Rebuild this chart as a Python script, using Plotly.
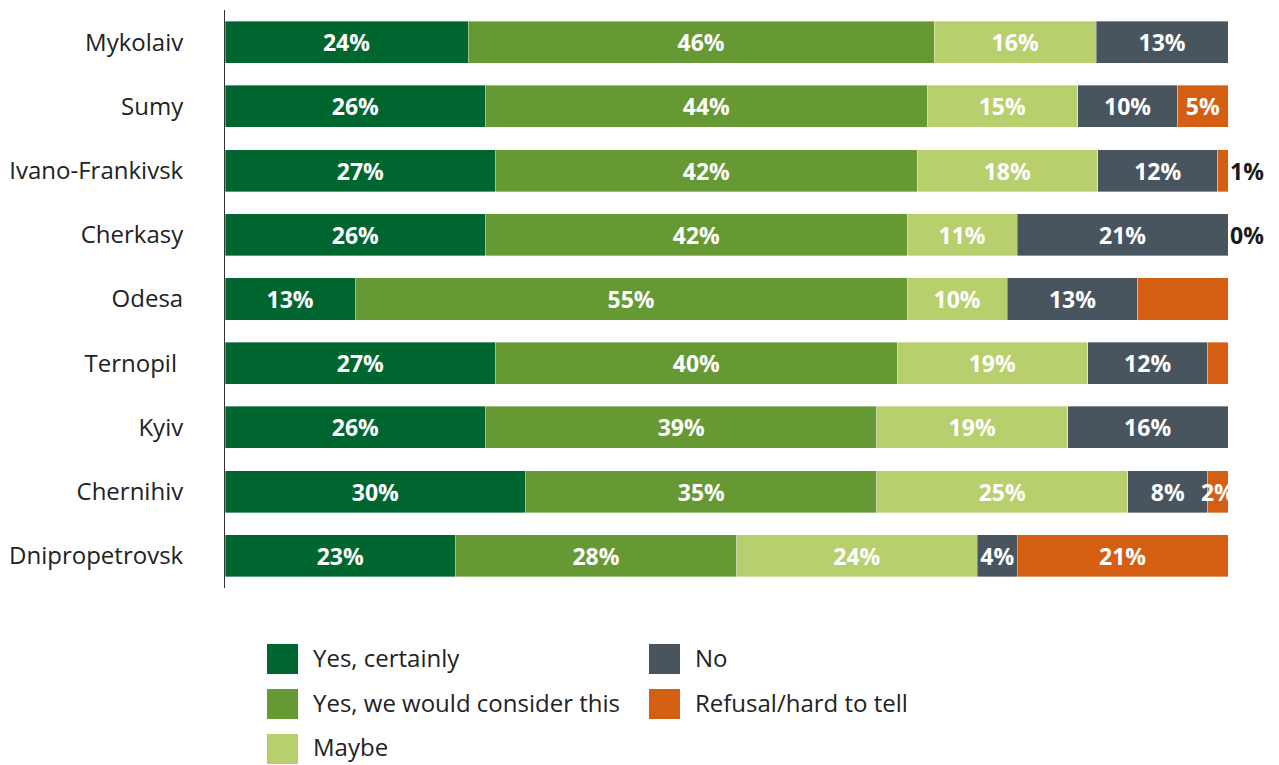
import plotly.graph_objects as go

# Survey answers by region (percent of respondents)
regions = ["Mykolaiv", "Sumy", "Ivano-Frankivsk", "Cherkasy", "Odesa",
           "Ternopil ", "Kyiv", "Chernihiv", "Dnipropetrovsk"]
series_names = ["Yes, certainly", "Yes, we would consider this", "Maybe",
                "No", "Refusal/hard to tell"]

yes_certainly = [24, 26, 27, 26, 13, 27, 26, 30, 23]
yes_consider = [46, 44, 42, 42, 55, 40, 39, 35, 28]
maybe = [16, 15, 18, 11, 10, 19, 19, 25, 24]
no_answer = [13, 10, 12, 21, 13, 12, 16, 8, 4]
refusal = [0, 5, 1, 0, 9, 2, 0, 2, 21]

# label mode for the refusal segment: "in" = inside, "out" = beside the bar, "" = none
refusal_label = ["", "in", "out", "out", "", "", "", "in", "in"]

series_values = [yes_certainly, yes_consider, maybe, no_answer, refusal]
colors = ["#006630", "#669933", "#b7cf6c", "#48555f", "#d45f13"]

FONT = "Open Sans"

fig = go.Figure()
for i, (name, vals) in enumerate(zip(series_names, series_values)):
    if i < 4:
        txt = [f"{v}%" for v in vals]
    else:
        txt = [f"{v}%" if m == "in" else "" for v, m in zip(vals, refusal_label)]
    fig.add_trace(go.Bar(
        name=name,
        y=regions,
        x=vals,
        orientation="h",
        marker=dict(color=colors[i], line=dict(color="rgba(255,255,255,0.6)", width=0.6)),
        text=txt,
        textposition="inside",
        insidetextanchor="middle",
        constraintext="none",
        textangle=0,
        cliponaxis=True,
        textfont=dict(family=FONT, size=23, color="white", weight="bold"),
        showlegend=False,
        hoverinfo="skip",
    ))

# refusal labels placed just right of the bar end
for r, v, m in zip(regions, refusal, refusal_label):
    if m == "out":
        fig.add_annotation(x=100, y=r, xref="x", yref="y", text=f"{v}%",
                           showarrow=False, xanchor="left", xshift=0,
                           font=dict(family=FONT, size=23, color="#1a1a1a", weight="bold"))

# plot area geometry (pixels) used to place the legend below the bars
L, R, T, B = 225, 1228, 10, 588


def px_x(p):
    return (p - L) / (R - L)


def px_y(p):
    return (B - p) / (B - T)


legend_slots = [(267, 659), (267, 704), (267, 749), (649, 659), (649, 704)]
for (sx, sy), name, col in zip(legend_slots, series_names, colors):
    fig.add_shape(type="rect", xref="paper", yref="paper",
                  x0=px_x(sx), x1=px_x(sx + 31), y0=px_y(sy + 15), y1=px_y(sy - 15),
                  fillcolor=col, line=dict(width=0))
    fig.add_annotation(x=px_x(sx + 44), y=px_y(sy - 2), xref="paper", yref="paper",
                       text=name, showarrow=False, xanchor="left", yanchor="middle",
                       font=dict(family=FONT, size=24, color="#222222"))

fig.update_layout(
    width=1279, height=765,
    margin=dict(l=L, r=1279 - R, t=T, b=765 - B),
    barmode="stack",
    barnorm="percent",
    bargap=0.345,
    plot_bgcolor="white",
    paper_bgcolor="white",
    font=dict(family=FONT, color="#222222"),
    xaxis=dict(range=[0, 100], visible=False, fixedrange=True),
    yaxis=dict(
        range=[8.5, -0.5],
        showline=True, linecolor="#333333", linewidth=1,
        showgrid=False, zeroline=False, ticks="",
        ticklabelstandoff=36,
        tickfont=dict(family=FONT, size=24, color="#222222"),
    ),
)

fig.write_html("out.html")
